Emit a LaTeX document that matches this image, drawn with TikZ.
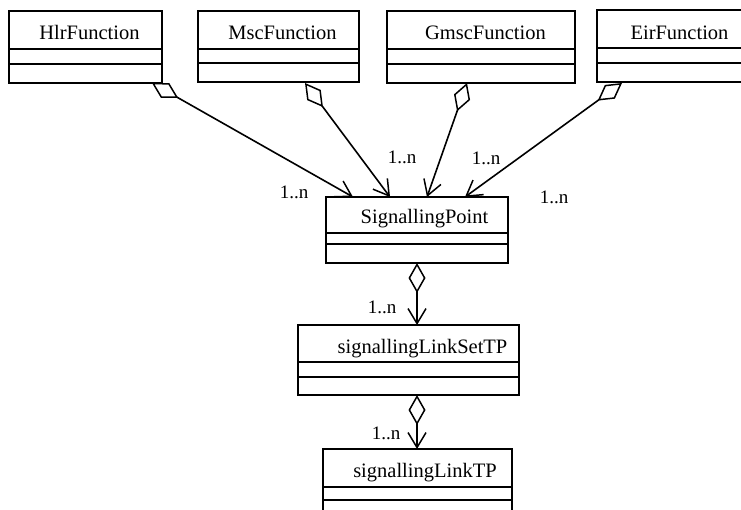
\documentclass[tikz,border=0pt]{standalone}
\usepackage{fontspec}
\setmainfont{Liberation Serif}
\usetikzlibrary{arrows.meta}
\begin{document}
\begin{tikzpicture}[x=1pt,y=-1pt,
  umlbox/.style={draw,line width=1.7pt,rectangle,inner sep=0pt,outer sep=0pt,anchor=north west},
  divider/.style={line width=1.5pt},
  title/.style={anchor=base,inner sep=0pt,font=\fontsize{20.5}{24}\selectfont},
  mult/.style={inner sep=0pt,font=\fontsize{19}{22}\selectfont},
  agg/.style={line width=1.6pt,
    {Diamond[open,length=30pt,width=17pt,line width=1.5pt]}-{Straight Barb[length=15pt,width=18pt,line width=1.5pt]}}
  ]
\useasboundingbox (0,0) rectangle (741,510);
\clip (0,0) rectangle (741,510);
% top row
\node[umlbox,minimum width=153pt,minimum height=72pt] (hlr) at (9,11) {};
\node[umlbox,minimum width=161pt,minimum height=71pt] (msc) at (198,11) {};
\node[umlbox,minimum width=188pt,minimum height=72pt] (gmsc) at (387,11) {};
\node[umlbox,minimum width=160pt,minimum height=72pt] (eir) at (597,10) {};
\node[title] (hlrT) at (89.5,40) {HlrFunction};
\node[title] (mscT) at (282.5,40) {MscFunction};
\node[title] (gmscT) at (485.5,40) {GmscFunction};
\node[title] (eirT) at (679.5,40) {EirFunction};
\draw[divider] (hlr.west |- 0,49) -- (hlr.east |- 0,49) (hlr.west |- 0,64) -- (hlr.east |- 0,64);
\draw[divider] (msc.west |- 0,49) -- (msc.east |- 0,49) (msc.west |- 0,63) -- (msc.east |- 0,63);
\draw[divider] (gmsc.west |- 0,49) -- (gmsc.east |- 0,49) (gmsc.west |- 0,64) -- (gmsc.east |- 0,64);
\draw[divider] (eir.west |- 0,48) -- (eir.east |- 0,48) (eir.west |- 0,63) -- (eir.east |- 0,63);
% signalling point
\node[umlbox,minimum width=182pt,minimum height=66pt] (sp) at (326,197) {};
\node[title] (spT) at (424.5,224) {SignallingPoint};
\draw[divider] (sp.west |- 0,233) -- (sp.east |- 0,233) (sp.west |- 0,244) -- (sp.east |- 0,244);
% link set
\node[umlbox,minimum width=221pt,minimum height=70pt] (ls) at (298,325) {};
\node[title] (lsT) at (422.5,353) {signallingLinkSetTP};
\draw[divider] (ls.west |- 0,362) -- (ls.east |- 0,362) (ls.west |- 0,377) -- (ls.east |- 0,377);
% link
\node[umlbox,minimum width=189pt,minimum height=80pt] (lk) at (323,449) {};
\node[title] (lkT) at (425,477) {signallingLinkTP};
\draw[divider] (lk.west |- 0,487) -- (lk.east |- 0,487) (lk.west |- 0,500) -- (lk.east |- 0,500);
% connector end points
\coordinate (hlrS) at (152,83);
\coordinate (mscS) at (305,83);
\coordinate (gmscS) at (467,83);
\coordinate (eirS) at (622,83);
\coordinate (spA) at (353,197);
\coordinate (spB) at (390,197);
\coordinate (spC) at (427,197);
\coordinate (spD) at (465,197);
\coordinate (spS) at (417,263);
\coordinate (lsN) at (417,325);
\coordinate (lsS) at (417,395);
\coordinate (lkN) at (417,449);
\draw[agg] (hlrS) -- (spA);
\draw[agg] (mscS) -- (spB);
\draw[agg] (gmscS) -- (spC);
\draw[agg] (eirS) -- (spD);
\draw[agg] (spS) -- (lsN);
\draw[agg] (lsS) -- (lkN);
% multiplicities
\node[mult] (m1) at (294,192) {1..n};
\node[mult] (m2) at (402,157) {1..n};
\node[mult] (m3) at (486,158) {1..n};
\node[mult] (m4) at (554,197) {1..n};
\node[mult] (m5) at (382,307) {1..n};
\node[mult] (m6) at (386,433) {1..n};
\end{tikzpicture}
\end{document}
